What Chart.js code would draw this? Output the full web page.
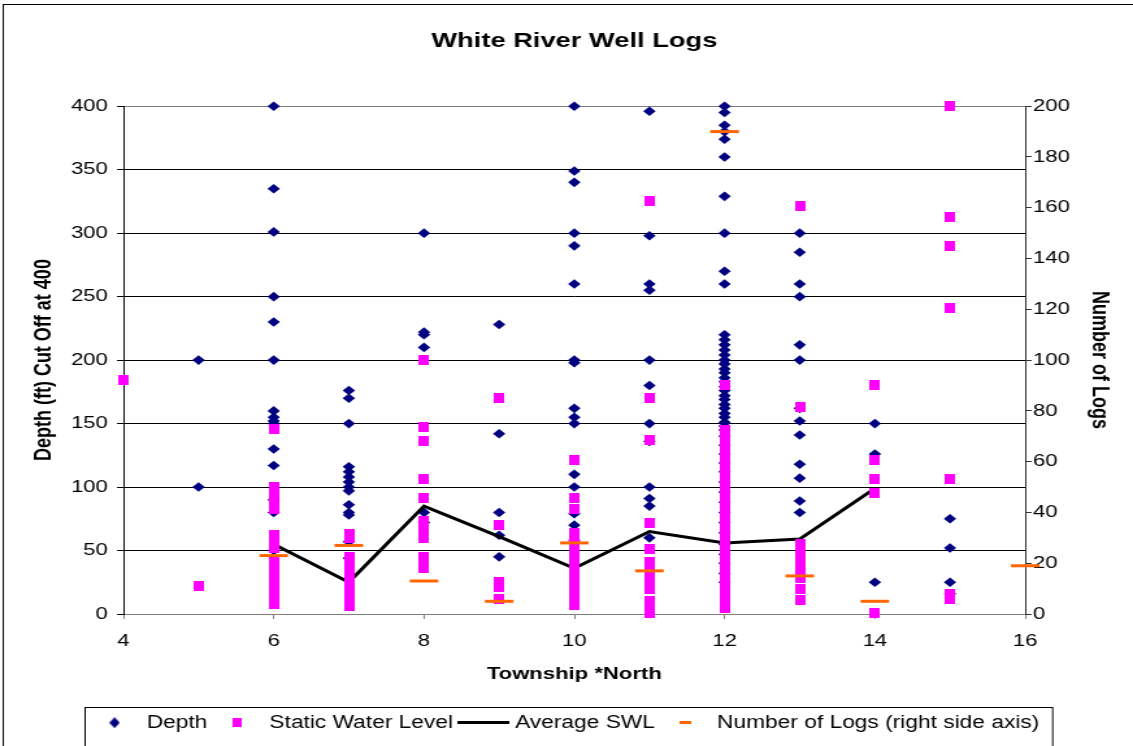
<!DOCTYPE html>
<html>
<head>
<meta charset="utf-8">
<title>White River Well Logs</title>
<script src="https://cdn.jsdelivr.net/npm/chart.js@4.4.1/dist/chart.umd.min.js"></script>
<style>
  html, body { margin: 0; padding: 0; background: #fff; overflow: hidden; }
  /* the original picture is stretched sideways, so the canvas is drawn narrow and widened */
  #wrap { width: 872px; height: 746px; transform: scaleX(1.29931); transform-origin: 0 0; }
  #chart { display: block; }
</style>
</head>
<body>
<div id="wrap"><canvas id="chart" width="872" height="746"></canvas></div>
<script>
// depth readings per township (ft, cut off at 400)
const depthT5 = [200, 100];
const depthT6 = [400, 335, 301, 250, 230, 200, 160, 155, 152, 150, 130, 117, 90, 80, 50];
const depthT7 = [176, 170, 150, 116, 112, 108, 104, 100, 97, 86, 80, 78, 57, 44];
const depthT8 = [300, 222, 220, 210, 80, 72];
const depthT9 = [228, 142, 80, 62, 45];
const depthT10 = [400, 349, 340, 300, 290, 260, 200, 198, 162, 155, 150, 110, 100, 79, 70, 58];
const depthT11 = [396, 298, 260, 255, 200, 180, 150, 136, 100, 91, 85, 60];
const depthT12 = [400, 395, 385, 380, 374, 360, 329, 300, 270, 260, 220, 216, 212, 208, 204, 200,
  197, 193, 190, 186, 183, 179, 176, 172, 169, 165, 162, 158, 155, 151, 148, 145, 140, 133, 126,
  119, 112, 104, 96, 88, 80, 72, 64, 55, 47, 40, 32, 25];
const depthT13 = [300, 285, 260, 250, 212, 200, 162, 152, 141, 118, 107, 89, 80];
const depthT14 = [150, 126, 25];
const depthT15 = [75, 52, 25, 16];

// static water level readings per township (ft)
const swlT4 = [184];
const swlT5 = [22];
const swlT6 = [146, 100, 93, 88, 83, 62, 57, 52, 42, 38, 34, 30, 26, 22, 18, 14, 10, 8];
const swlT7 = [63, 60, 45, 41, 37, 33, 29, 25, 21, 17, 13, 9, 6];
const swlT8 = [200, 147, 136, 106, 91, 73, 66, 60, 45, 41, 36];
const swlT9 = [170, 70, 25, 21, 12];
const swlT10 = [121, 91, 83, 64, 60, 56, 52, 48, 43, 39, 35, 31, 27, 23, 19, 15, 11, 7];
const swlT11 = [325, 170, 137, 72, 51, 41, 35, 30, 25, 20, 10, 5, 1];
const swlT12 = [180, 145, 141, 137, 134, 130, 126, 123, 119, 115, 112, 108, 104, 100, 97, 93, 89,
  86, 82, 78, 74, 71, 67, 63, 60, 56, 52, 48, 45, 41, 37, 34, 30, 26, 22, 19, 15, 11, 8, 5];
const swlT13 = [321, 163, 55, 47, 42, 37, 32, 28, 20, 11];
const swlT14 = [180, 121, 106, 95, 1];
const swlT15 = [400, 313, 290, 241, 106, 16, 12];

const depthByTownship = [[5, depthT5], [6, depthT6], [7, depthT7], [8, depthT8], [9, depthT9],
  [10, depthT10], [11, depthT11], [12, depthT12], [13, depthT13], [14, depthT14], [15, depthT15]];
const swlByTownship = [[4, swlT4], [5, swlT5], [6, swlT6], [7, swlT7], [8, swlT8], [9, swlT9],
  [10, swlT10], [11, swlT11], [12, swlT12], [13, swlT13], [14, swlT14], [15, swlT15]];

const avgTownships = [6, 7, 8, 9, 10, 11, 12, 13, 14];
const avgSWL = [55, 25, 85, 61, 36, 65, 56, 59, 99];

const logTownships = [6, 7, 8, 9, 10, 11, 12, 13, 14, 16];
const logCounts = [23, 27, 13, 5, 28, 17, 190, 15, 5, 19];

const NAVY = '#000080';
const PINK = '#ff00ff';
const ORANGE = '#ff6600';

const toPoints = (pairs) => pairs.flatMap(([x, ys]) => ys.map((y) => ({ x, y })));
const zipPoints = (xs, ys) => xs.map((x, i) => ({ x, y: ys[i] }));

// small canvases used as point / legend markers
function icon(w, h, paint) {
    const c = document.createElement('canvas');
    c.width = w;
    c.height = h;
    paint(c.getContext('2d'), w, h);
    return c;
}
const swlMarker = icon(8, 10, (g, w, h) => { g.fillStyle = PINK; g.fillRect(0, 0, w, h); });
const legendIcons = [
    icon(8, 11, (g, w, h) => {
        g.fillStyle = NAVY;
        g.beginPath();
        g.moveTo(w / 2, 0); g.lineTo(w, h / 2); g.lineTo(w / 2, h); g.lineTo(0, h / 2);
        g.closePath();
        g.fill();
    }),
    icon(7, 9, (g, w, h) => { g.fillStyle = PINK; g.fillRect(0, 0, w, h); }),
    icon(40, 3, (g, w, h) => { g.fillStyle = '#000'; g.fillRect(0, 0, w, h); }),
    icon(9, 3, (g, w, h) => { g.fillStyle = ORANGE; g.fillRect(0, 0, w, h); })
];

// outer frame and the box round the legend
const framePlugin = {
    id: 'frame',
    beforeDraw(chart) {
        const { ctx } = chart;
        ctx.save();
        ctx.strokeStyle = '#000';
        ctx.lineWidth = 1;
        ctx.strokeRect(2.5, 4.5, chart.width + 20, chart.height + 20);
        ctx.restore();
    },
    afterDraw(chart) {
        const boxes = chart.legend.legendHitBoxes;
        if (!boxes || !boxes.length) return;
        const last = boxes[boxes.length - 1];
        const left = boxes[0].left - 7;
        const right = last.left + last.width + 10;
        const { ctx } = chart;
        ctx.save();
        ctx.strokeStyle = '#000';
        ctx.lineWidth = 1;
        ctx.strokeRect(Math.round(left) + 0.5, Math.round(chart.legend.top) + 0.5, right - left, 60);
        ctx.restore();
    }
};

Chart.defaults.font.family = "'Liberation Sans', Arial, sans-serif";
Chart.defaults.color = '#000';

new Chart(document.getElementById('chart'), {
    type: 'scatter',
    data: {
        datasets: [
            {
                label: 'Depth',
                data: toPoints(depthByTownship),
                pointStyle: 'rectRot',
                pointRadius: 4.8,
                backgroundColor: NAVY,
                borderColor: NAVY,
                borderWidth: 0,
                clip: false,
                order: 4
            },
            {
                label: 'Static Water Level',
                data: toPoints(swlByTownship),
                pointStyle: swlMarker,
                backgroundColor: PINK,
                borderColor: PINK,
                clip: false,
                order: 2
            },
            {
                label: 'Average SWL',
                data: zipPoints(avgTownships, avgSWL),
                showLine: true,
                borderColor: '#000',
                backgroundColor: '#000',
                borderWidth: 3,
                pointRadius: 0,
                clip: false,
                order: 3
            },
            {
                label: 'Number of Logs (right side axis)',
                data: zipPoints(logTownships, logCounts),
                yAxisID: 'y2',
                pointStyle: 'line',
                pointRadius: 11,
                borderWidth: 3,
                borderColor: ORANGE,
                backgroundColor: ORANGE,
                clip: false,
                order: 1
            }
        ]
    },
    options: {
        responsive: false,
        devicePixelRatio: 1,
        animation: false,
        events: [],
        layout: { padding: { left: 0, right: 0, top: 0, bottom: 4.5 } },
        plugins: {
            title: {
                display: true,
                text: 'White River Well Logs',
                fullSize: false,
                font: { size: 21, weight: 'bold' },
                color: '#000',
                padding: { top: 29, bottom: 52 }
            },
            legend: {
                position: 'bottom',
                labels: {
                    usePointStyle: true,
                    pointStyleWidth: 32,
                    padding: 7,
                    font: { size: 17.5 },
                    color: '#000',
                    sort: (a, b) => a.datasetIndex - b.datasetIndex,
                    generateLabels(chart) {
                        const items = Chart.defaults.plugins.legend.labels.generateLabels(chart);
                        items.forEach((it) => { it.pointStyle = legendIcons[it.datasetIndex]; });
                        return items;
                    }
                }
            },
            tooltip: { enabled: false }
        },
        scales: {
            x: {
                type: 'linear',
                min: 4,
                max: 16,
                afterFit: (s) => { s.height = 93; },
                ticks: { stepSize: 2, autoSkip: false, maxRotation: 0, padding: 12, font: { size: 17 }, color: '#000' },
                grid: { drawOnChartArea: false, tickLength: 5, tickColor: '#808080' },
                border: { color: '#808080' },
                title: {
                    display: true,
                    text: 'Township *North',
                    font: { size: 17, weight: 'bold' },
                    color: '#000',
                    padding: { top: 0, bottom: 22 }
                }
            },
            y: {
                position: 'left',
                min: 0,
                max: 400,
                afterFit: (s) => { s.width = 95; },
                ticks: { stepSize: 50, padding: 7, font: { size: 17 }, color: '#000' },
                grid: {
                    color: (c) => (c.tick && (c.tick.value === 400 || c.tick.value === 0)) ? '#808080' : '#000',
                    tickColor: '#000',
                    tickLength: 5
                },
                border: { color: '#000' },
                title: {
                    display: true,
                    text: 'Depth (ft) Cut Off at 400',
                    font: { size: 18, weight: 'bold' },
                    color: '#000',
                    padding: { top: 23, bottom: 0 }
                }
            },
            y2: {
                position: 'right',
                min: 0,
                max: 200,
                afterFit: (s) => { s.width = 83; },
                ticks: { stepSize: 20, padding: 1, font: { size: 17 }, color: '#000' },
                grid: { drawOnChartArea: false, tickColor: '#333', tickLength: 5 },
                border: { color: '#333' },
                title: {
                    display: true,
                    text: 'Number of Logs',
                    font: { size: 18, weight: 'bold' },
                    color: '#000',
                    padding: { top: 15, bottom: 0 }
                }
            }
        }
    },
    plugins: [framePlugin]
});
</script>
</body>
</html>
